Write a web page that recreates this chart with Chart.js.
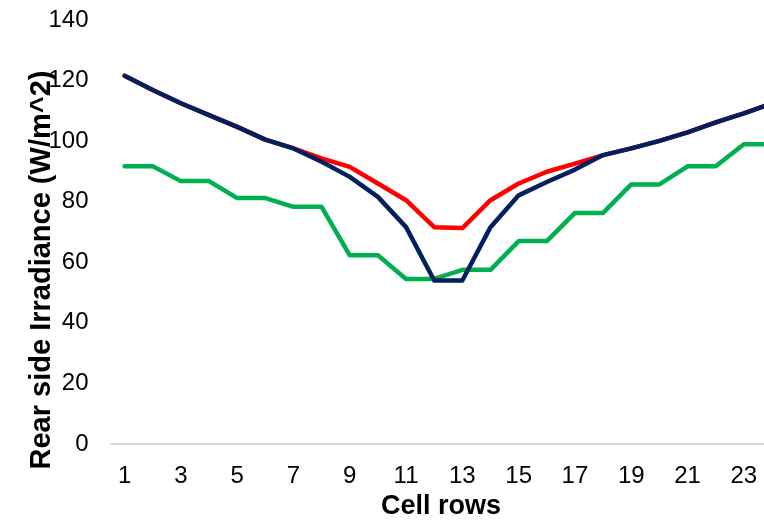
<!DOCTYPE html>
<html>
<head>
<meta charset="utf-8">
<script src="https://cdn.jsdelivr.net/npm/chart.js@4/dist/chart.umd.min.js"></script>
<style>
  html, body { margin: 0; padding: 0; background: #ffffff; overflow: hidden; }
  #wrap { width: 764px; height: 522px; overflow: hidden; }
  canvas { display: block; }
</style>
</head>
<body>
<div id="wrap"><canvas id="c" width="790" height="522"></canvas></div>
<script>
// Cell row numbers along the module
const cellRows = Array.from({ length: 24 }, (_, i) => String(i + 1));

// Rear side irradiance per cell row (W/m^2)
const seriesNavy = [121.6, 116.9, 112.5, 108.6, 104.7, 100.5, 97.6, 93.2, 88.2, 81.6, 71.6, 54.0,
                    54.0, 71.6, 82.1, 86.5, 90.6, 95.4, 97.6, 100.1, 102.9, 106.2, 109.2, 112.5];
const seriesRed  = [121.6, 116.9, 112.5, 108.6, 104.7, 100.5, 97.6, 94.3, 91.5, 86.0, 80.5, 71.6,
                    71.3, 80.5, 86.0, 89.9, 92.6, 95.4, 97.6, 100.1, 102.9, 106.2, 109.2, 112.5];
const seriesGreen = [91.7, 91.7, 86.8, 86.8, 81.2, 81.2, 78.3, 78.3, 62.3, 62.3, 54.5, 54.5,
                     57.5, 57.5, 67.0, 67.0, 76.3, 76.3, 85.7, 85.7, 91.7, 91.7, 99.0, 99.0];

// Y axis range and tick step
const yMin = 0, yMax = 140, yStep = 20;

const yTitle = 'Rear side Irradiance (W/m^2)';
const xTitle = 'Cell rows';

const FONT = '"Liberation Sans", Arial, sans-serif';

// Axis titles, drawn at fixed spots beside the scales
const axisTitlesPlugin = {
  id: 'axisTitles',
  afterDraw(chart) {
    const ctx = chart.ctx;
    ctx.save();
    ctx.fillStyle = '#000000';
    ctx.textAlign = 'center';
    ctx.textBaseline = 'middle';

    ctx.font = 'bold 27px ' + FONT;
    ctx.fillText(xTitle, 441, 507);

    ctx.translate(42, 270);
    ctx.rotate(-Math.PI / 2);
    ctx.font = 'bold 29px ' + FONT;
    ctx.fillText(yTitle, 0, 0);
    ctx.restore();
  }
};

const lineStyle = {
  borderWidth: 4.5,
  pointRadius: 0,
  pointHoverRadius: 0,
  tension: 0,
  fill: false,
  borderCapStyle: 'round',
  borderJoinStyle: 'round'
};

new Chart(document.getElementById('c'), {
  type: 'line',
  data: {
    labels: cellRows,
    datasets: [
      Object.assign({ label: 'Navy', data: seriesNavy, borderColor: '#002060', order: 0 }, lineStyle),
      Object.assign({ label: 'Red', data: seriesRed, borderColor: '#ff0000', order: 1 }, lineStyle),
      Object.assign({ label: 'Green', data: seriesGreen, borderColor: '#00b050', order: 2 }, lineStyle)
    ]
  },
  options: {
    responsive: false,
    animation: false,
    layout: { padding: { left: 0, right: 0, top: 20, bottom: 0 } },
    plugins: {
      legend: { display: false },
      tooltip: { enabled: false }
    },
    scales: {
      x: {
        type: 'category',
        offset: true,
        grid: { display: false, drawTicks: false },
        border: { display: true, color: '#d9d9d9', width: 2 },
        ticks: {
          autoSkip: false,
          maxRotation: 0,
          minRotation: 0,
          padding: 18,
          color: '#000000',
          font: { family: FONT, size: 24 },
          callback: function (value, index) {
            return index % 2 === 0 ? this.getLabelForValue(value) : '';
          }
        },
        afterFit(scale) { scale.height = 78; }
      },
      y: {
        min: yMin,
        max: yMax,
        grid: { display: false, drawTicks: false },
        border: { display: false },
        ticks: {
          stepSize: yStep,
          padding: 22,
          color: '#000000',
          font: { family: FONT, size: 24 }
        },
        afterFit(scale) {
          scale.width = 110.5;
          scale.paddingTop = 0;
          scale.paddingBottom = 0;
        }
      }
    }
  },
  plugins: [axisTitlesPlugin]
});
</script>
</body>
</html>
